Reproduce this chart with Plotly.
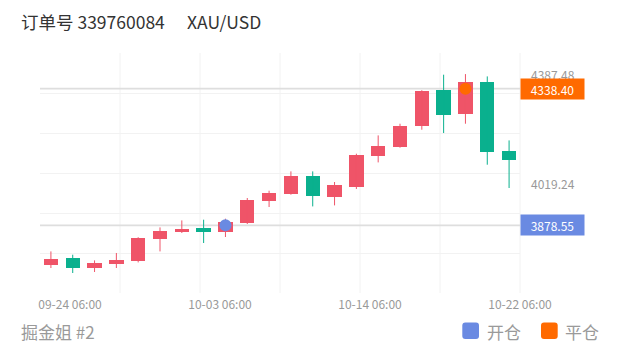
import numpy as np
import plotly.graph_objects as go

# ---------------- data ----------------
dates = ["09-23", "09-24", "09-25", "09-26", "09-29", "09-30", "10-01", "10-02",
         "10-03", "10-06", "10-07", "10-08", "10-09", "10-10", "10-13", "10-14",
         "10-15", "10-16", "10-17", "10-20", "10-21", "10-22"]
opens = [3745.2, 3767.4, 3735.1, 3749.6, 3757.3, 3832.7, 3857.2, 3868.3, 3854.9, 3886.5, 3959.1,
         3985.0, 4045.6, 3974.0, 4007.6, 4110.5, 4142.1, 4211.4, 4334.9, 4254.2, 4359.5, 4127.3]
highs = [3790.9, 3779.8, 3760.7, 3785.6, 3838.7, 3871.7, 3895.2, 3897.6, 3901.0, 3970.6, 3995.1,
         4060.1, 4060.1, 4024.4, 4119.6, 4181.2, 4220.5, 4333.2, 4385.4, 4387.5, 4379.6, 4164.3]
lows = [3735.1, 3718.3, 3721.6, 3735.1, 3753.9, 3790.9, 3852.8, 3819.2, 3839.4, 3883.1, 3940.3,
        3981.7, 3942.3, 3945.7, 4000.9, 4090.3, 4139.8, 4200.3, 4189.2, 4220.5, 4082.6, 4004.2]
closes = [3765.4, 3735.1, 3751.9, 3763.0, 3836.0, 3860.6, 3867.3, 3856.2, 3888.5, 3962.5, 3987.4,
          4043.2, 3976.0, 4013.0, 4113.9, 4144.2, 4213.8, 4329.2, 4250.8, 4360.8, 4125.3, 4099.4]

open_index = 8
open_price = 3878.55
close_index = 19
close_price = 4338.40

y_tick_values = [4019.24, 4387.48]
x_tick_positions = [0.875, 7.75, 14.625, 21.5]
x_tick_labels = ["09-24 06:00", "10-03 06:00", "10-14 06:00", "10-22 06:00"]

title_order = "订单号 339760084"
title_symbol = "XAU/USD"
footer_text = "掘金姐 #2"
legend_open = "开仓"
legend_close = "平仓"

# ---------------- style ----------------
UP = "#EF5468"
DOWN = "#0AB08E"
BLUE = "#6A8AE2"
ORANGE = "#FF6A00"
FONT = "Noto Sans CJK SC"
Y_RANGE = [3651.0, 4458.4]

x = list(range(len(dates)))
up_idx = [i for i in x if closes[i] >= opens[i]]
dn_idx = [i for i in x if closes[i] < opens[i]]

fig = go.Figure()


def wick_trace(idx, color):
    xs, ys = [], []
    for i in idx:
        xs += [i, i, None]
        ys += [lows[i], highs[i], None]
    return go.Scatter(x=xs, y=ys, mode="lines", line=dict(color=color, width=1),
                      hoverinfo="skip", showlegend=False)


def body_trace(idx, color):
    return go.Bar(x=idx,
                  base=[min(opens[i], closes[i]) for i in idx],
                  y=[max(abs(closes[i] - opens[i]), 0.8) for i in idx],
                  width=0.66, marker=dict(color=color, line=dict(width=0)),
                  showlegend=False, hoverinfo="skip")


fig.add_trace(wick_trace(up_idx, UP))
fig.add_trace(wick_trace(dn_idx, DOWN))
fig.add_trace(body_trace(up_idx, UP))
fig.add_trace(body_trace(dn_idx, DOWN))

fig.add_trace(go.Scatter(x=[open_index], y=[open_price], mode="markers",
                         marker=dict(color=BLUE, size=12, line=dict(width=0)),
                         showlegend=False, name=legend_open))
fig.add_trace(go.Scatter(x=[close_index], y=[close_price], mode="markers",
                         marker=dict(color=ORANGE, size=12, line=dict(width=0)),
                         showlegend=False, name=legend_close))

shapes = []
# vertical grid lines
for k in range(1, 7):
    shapes.append(dict(type="line", xref="x domain", yref="y domain", x0=k / 6, x1=k / 6,
                       y0=0, y1=1, line=dict(color="#F2F2F2", width=1), layer="below"))
# price lines
for p in [close_price, open_price]:
    shapes.append(dict(type="line", xref="x domain", yref="y", x0=0, x1=1, y0=p, y1=p,
                       line=dict(color="#DEDEDE", width=1.6), layer="below"))


def rrect(x0, y0, x1, y1, r):
    return (f"M {x0 + r} {y0} L {x1 - r} {y0} Q {x1} {y0} {x1} {y0 + r} "
            f"L {x1} {y1 - r} Q {x1} {y1} {x1 - r} {y1} L {x0 + r} {y1} "
            f"Q {x0} {y1} {x0} {y1 - r} L {x0} {y0 + r} Q {x0} {y0} {x0 + r} {y0} Z")


for (px0, px1, col) in [(-57.7, -41.0, BLUE), (21.0, 37.7, ORANGE)]:
    shapes.append(dict(type="path", xref="paper", yref="paper", xsizemode="pixel",
                       ysizemode="pixel", xanchor=1, yanchor=0,
                       path=rrect(px0, -46.0, px1, -29.4, 3),
                       fillcolor=col, line=dict(width=0)))

annotations = []
for v in y_tick_values:
    annotations.append(dict(xref="paper", yref="y", x=1, y=v, xanchor="left", yanchor="middle",
                            xshift=9, text=f"{v:.2f}", showarrow=False,
                            font=dict(family=FONT, size=12, color="#999999")))
for p, col in [(close_price, ORANGE), (open_price, BLUE)]:
    annotations.append(dict(xref="paper", yref="y", x=1, y=p, xanchor="left", yanchor="middle",
                            text=f"{p:.2f}", showarrow=False, bgcolor=col, width=59, height=16,
                            borderpad=2, align="center",
                            font=dict(family=FONT, size=12, color="white")))

annotations += [
    dict(xref="paper", yref="paper", x=0, y=1, xshift=-21, yshift=32, xanchor="left",
         yanchor="middle", text=title_order, showarrow=False,
         font=dict(family=FONT, size=17.5, color="#333333")),
    dict(xref="paper", yref="paper", x=0, y=1, xshift=145, yshift=32, xanchor="left",
         yanchor="middle", text=title_symbol, showarrow=False,
         font=dict(family=FONT, size=17.5, color="#333333")),
    dict(xref="paper", yref="paper", x=0, y=0, xshift=-21, yshift=-38, xanchor="left",
         yanchor="middle", text=footer_text, showarrow=False,
         font=dict(family=FONT, size=17, color="#9A9A9A")),
    dict(xref="paper", yref="paper", x=1, y=0, xshift=-35.3, yshift=-38.4, xanchor="left",
         yanchor="middle", text=legend_open, showarrow=False,
         font=dict(family=FONT, size=17, color="#9A9A9A")),
    dict(xref="paper", yref="paper", x=1, y=0, xshift=43.3, yshift=-38.4, xanchor="left",
         yanchor="middle", text=legend_close, showarrow=False,
         font=dict(family=FONT, size=17, color="#9A9A9A")),
]

fig.update_layout(
    width=620, height=352,
    margin=dict(l=40, r=100, t=53, b=59),
    paper_bgcolor="white", plot_bgcolor="white",
    barmode="overlay", bargap=0,
    showlegend=False,
    font=dict(family=FONT),
    xaxis=dict(range=[-0.5, len(dates) - 0.5], tickvals=x_tick_positions, ticktext=x_tick_labels,
               showgrid=False, zeroline=False, showline=False, ticks="", ticklabelstandoff=3,
               tickfont=dict(family=FONT, size=12, color="#999999"), fixedrange=True),
    yaxis=dict(range=Y_RANGE, tickvals=list(np.linspace(Y_RANGE[0], Y_RANGE[1], 7)),
               showticklabels=False, showgrid=True, gridcolor="#F2F2F2", gridwidth=1,
               zeroline=False, showline=False, ticks="", fixedrange=True),
    shapes=shapes,
    annotations=annotations,
)

fig.write_html("out.html")
